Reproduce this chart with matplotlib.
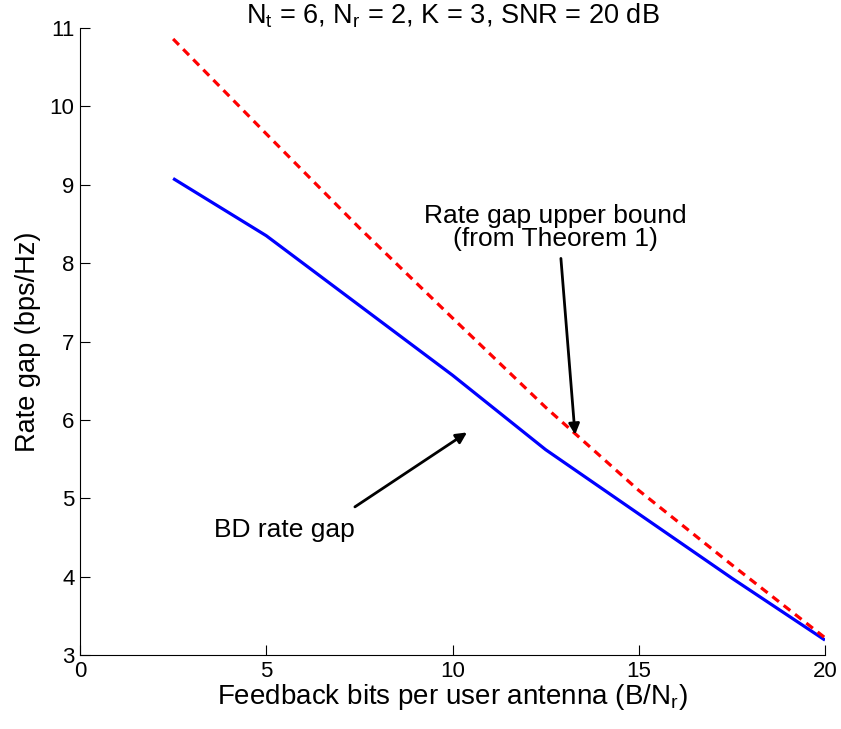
import numpy as np
import matplotlib.pyplot as plt

plt.rcParams['font.family'] = ['Liberation Sans', 'DejaVu Sans']

# feedback bits per user antenna
bits = [2.5, 5.0, 7.5, 10.0, 12.5, 15.0, 17.5, 20.0]
# simulated BD rate gap (bps/Hz)
bd_gap = [9.08, 8.35, 7.46, 6.57, 5.62, 4.80, 3.98, 3.19]
# upper bound from Theorem 1
upper_bound = [10.86, 9.65, 8.45, 7.30, 6.16, 5.10, 4.15, 3.22]


def main() -> None:
    fig = plt.figure(figsize=(8.41, 7.29), dpi=100)
    ax = fig.add_axes([0.0951, 0.1015, 0.8859, 0.8601])

    ax.plot(bits, bd_gap, color='#0000ff', linewidth=2.3, solid_capstyle='butt')
    ax.plot(bits, upper_bound, color='#ff0000', linewidth=2.3,
            linestyle=(0, (2.6, 1.9)))

    ax.set_xlim(0, 20)
    ax.set_ylim(3, 11)
    ax.set_xticks(np.arange(0, 21, 5))
    ax.set_yticks(np.arange(3, 12, 1))
    ax.tick_params(direction='in', length=7, width=0.8, labelsize=16,
                   top=False, right=False, pad=4)
    ax.spines['top'].set_visible(False)
    ax.spines['right'].set_visible(False)

    ax.set_xlabel('Feedback bits per user antenna (B/N$_\\mathregular{r}$)',
                  fontsize=20, labelpad=0)
    ax.set_ylabel('Rate gap (bps/Hz)', fontsize=19.5, labelpad=6)
    fig.text(0.538, 1 - 24 / 729,
             'N$_\\mathregular{t}$ = 6, N$_\\mathregular{r}$ = 2, K = 3, SNR = 20 dB',
             fontsize=19.5, ha='center', va='baseline')

    arrow = dict(arrowstyle='-|>', color='black', linewidth=2.0,
                 mutation_scale=16, shrinkA=0, shrinkB=0)
    ax.annotate('', xy=(13.29, 5.81), xytext=(12.91, 8.06), arrowprops=arrow)
    ax.text(12.75, 8.45, 'Rate gap upper bound\n(from Theorem 1)', fontsize=19,
            ha='center', va='center', linespacing=0.95)

    ax.annotate('', xy=(10.39, 5.84), xytext=(7.38, 4.89), arrowprops=arrow)
    ax.text(5.5, 4.59, 'BD rate gap', fontsize=19, ha='center', va='center')

    fig.savefig('out.png', dpi=100)


if __name__ == '__main__':
    main()
